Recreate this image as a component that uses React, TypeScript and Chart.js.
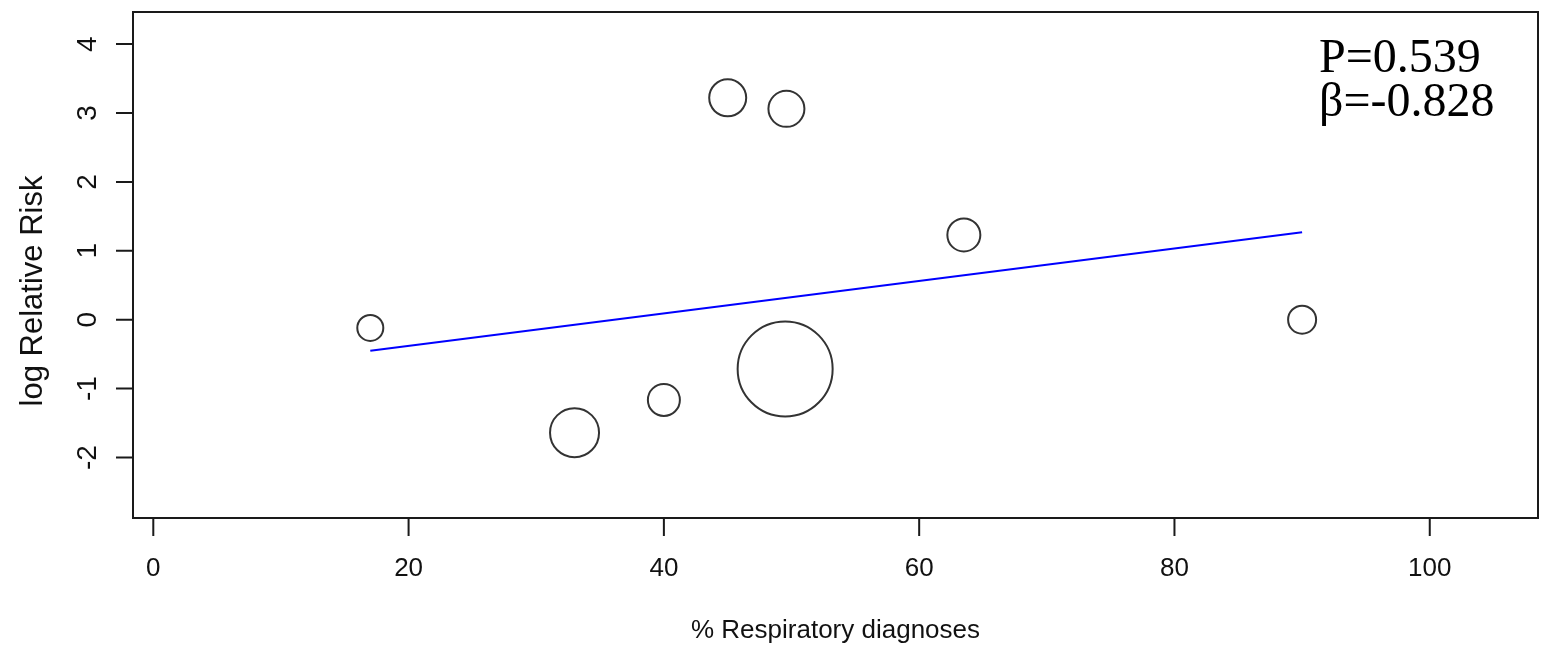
import React, { useEffect, useRef } from "react";
import { Chart, registerables } from "chart.js";

Chart.register(...registerables);

// ---- data ----
const pctRespiratory = [17, 33, 40, 45, 49.6, 49.5, 63.5, 90];
const logRelativeRisk = [-0.12, -1.64, -1.165, 3.22, 3.06, -0.715, 1.23, 0];
const studyWeight = [13, 24.5, 16, 18.5, 18, 47.5, 16.5, 14]; // bubble radius (study weight)

const fitX = [17, 90];
const fitY = [-0.45, 1.27];

const xTicks = [0, 20, 40, 60, 80, 100];
const yTicks = [-2, -1, 0, 1, 2, 3, 4];

const xTitle = "% Respiratory diagnoses";
const yTitle = "log Relative Risk";
const statLines = ["P=0.539", "β=-0.828"];

const SANS = '"Liberation Sans", Arial, Helvetica, sans-serif';
const SERIF = '"Liberation Serif", "Times New Roman", serif';

const rAxesPlugin = {
  id: "rAxes",
  afterDraw(chart: any) {
    const { ctx, chartArea: a } = chart;
    const xs = chart.scales.x;
    const ys = chart.scales.y;
    ctx.save();
    ctx.strokeStyle = "#1a1a1a";
    ctx.lineWidth = 2;
    ctx.strokeRect(a.left, a.top, a.right - a.left, a.bottom - a.top);

    ctx.beginPath();
    xTicks.forEach((v) => {
      const px = xs.getPixelForValue(v);
      ctx.moveTo(px, a.bottom);
      ctx.lineTo(px, a.bottom + 18);
    });
    yTicks.forEach((v) => {
      const py = ys.getPixelForValue(v);
      ctx.moveTo(a.left, py);
      ctx.lineTo(a.left - 17, py);
    });
    ctx.stroke();

    ctx.fillStyle = "#111";
    ctx.textAlign = "center";
    ctx.textBaseline = "alphabetic";

    // x tick labels
    ctx.font = `26px ${SANS}`;
    xTicks.forEach((v) => {
      ctx.fillText(String(v), xs.getPixelForValue(v), 576);
    });

    // x title
    ctx.fillText(xTitle, (a.left + a.right) / 2, 638);

    // y tick labels (rotated)
    ctx.font = `28px ${SANS}`;
    yTicks.forEach((v) => {
      const py = ys.getPixelForValue(v);
      ctx.save();
      ctx.translate(96, py);
      ctx.rotate(-Math.PI / 2);
      ctx.fillText(String(v), 0, 0);
      ctx.restore();
    });

    // y title
    ctx.font = `31px ${SANS}`;
    ctx.save();
    ctx.translate(41.5, 291);
    ctx.rotate(-Math.PI / 2);
    ctx.fillText(yTitle, 0, 0);
    ctx.restore();

    // stats annotation
    ctx.font = `48px ${SERIF}`;
    ctx.fillStyle = "#000";
    ctx.textAlign = "left";
    ctx.fillText(statLines[0], 1319, 72);
    ctx.fillText(statLines[1], 1319, 116);
    ctx.restore();
  },
};

export default function App() {
  const canvasRef = useRef<HTMLCanvasElement | null>(null);

  useEffect(() => {
    const canvas = canvasRef.current;
    if (!canvas) return;
    const bubbles = pctRespiratory.map((x, i) => ({
      x,
      y: logRelativeRisk[i],
      r: studyWeight[i],
    }));
    const fit = fitX.map((x, i) => ({ x, y: fitY[i] }));

    const chart = new Chart(canvas, {
      type: "bubble",
      data: {
        datasets: [
          {
            type: "bubble",
            data: bubbles,
            backgroundColor: "rgba(0,0,0,0)",
            borderColor: "#333333",
            borderWidth: 2,
          } as any,
          {
            type: "line",
            data: fit,
            borderColor: "#0000ff",
            borderWidth: 2,
            pointRadius: 0,
            fill: false,
          } as any,
        ],
      },
      options: {
        responsive: false,
        animation: false,
        events: [],
        layout: {
          autoPadding: false,
          padding: { left: 133, top: 12, right: 6, bottom: 130 },
        },
        plugins: {
          legend: { display: false },
          tooltip: { enabled: false },
        },
        scales: {
          x: { type: "linear", display: false, min: -1.59, max: 108.48 },
          y: { type: "linear", display: false, min: -2.878, max: 4.466 },
        },
      },
      plugins: [rAxesPlugin],
    });
    return () => chart.destroy();
  }, []);

  return (
    <div
      style={{
        position: "fixed",
        left: 0,
        top: 0,
        width: 1544,
        height: 648,
        background: "#fff",
      }}
    >
      <canvas
        ref={canvasRef}
        width={1544}
        height={648}
        style={{ display: "block", width: 1544, height: 648 }}
      />
    </div>
  );
}
